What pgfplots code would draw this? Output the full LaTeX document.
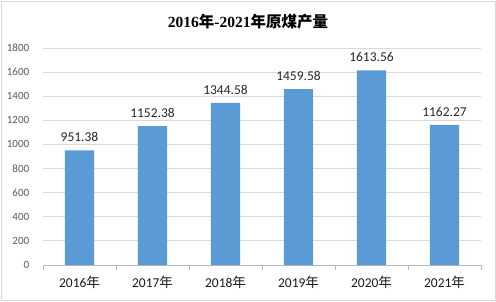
\documentclass[border=0pt]{standalone}
\usepackage{pgfplots}
\pgfplotsset{compat=1.18}
\usepackage{fontspec}
\setmainfont{Carlito}
\newfontfamily\cjk{Noto Sans CJK SC}
\newfontfamily\serifnum{Liberation Serif}
\definecolor{barblue}{HTML}{5B9BD5}
\definecolor{gridgray}{HTML}{D9D9D9}
\definecolor{ticktext}{HTML}{595959}
\begin{document}
\begin{tikzpicture}[x=1pt,y=1pt]
\path[use as bounding box] (0,0) rectangle (496,301);
\draw[gridgray, line width=1pt] (1,1) rectangle (495,300);
\node[font=\fontsize{15.5}{15.5}\selectfont\bfseries] at (248,279)
  {\serifnum 2016\cjk 年\serifnum -2021\cjk 年原煤产量};
\begin{axis}[
  at={(43pt,36pt)}, anchor=south west,
  scale only axis, width=438pt, height=217pt,
  xmin=-0.5, xmax=5.5, ymin=0, ymax=1800,
  axis x line*=bottom, axis y line*=left,
  y axis line style={draw=none},
  x axis line style={draw=gray!55, line width=0.8pt},
  ytick={0,200,...,1800},
  ytick style={draw=none},
  ymajorgrids, grid style={gridgray, line width=0.8pt},
  xtick={0,...,5},
  xticklabels={2016{\cjk 年},2017{\cjk 年},2018{\cjk 年},2019{\cjk 年},2020{\cjk 年},2021{\cjk 年}},
  major x tick style={draw=none},
  minor xtick={-0.5,0.5,...,5.5},
  minor x tick style={draw=gray!55, line width=0.8pt},
  minor tick length=5pt,
  tick align=outside,
  xticklabel style={font=\fontsize{13.5}{13.5}\selectfont, text=black!90, yshift=-3pt},
  yticklabel style={font=\fontsize{11}{11}\selectfont, text=ticktext, xshift=-6pt},
  /pgf/number format/assume math mode=true,
  yticklabel={\pgfmathprintnumber[fixed,1000 sep={}]{\tick}},
  nodes near coords,
  nodes near coords style={font=\fontsize{13.5}{13.5}\selectfont, text=black!85, yshift=5pt,
    /pgf/number format/.cd, fixed, precision=2, fixed zerofill, 1000 sep={}},
  clip=false,
]
\addplot[ybar, bar width=0.4, fill=barblue, draw=none] coordinates {
  (0,951.38) (1,1152.38) (2,1344.58) (3,1459.58) (4,1613.56) (5,1162.27)};
\end{axis}
\end{tikzpicture}
\end{document}
